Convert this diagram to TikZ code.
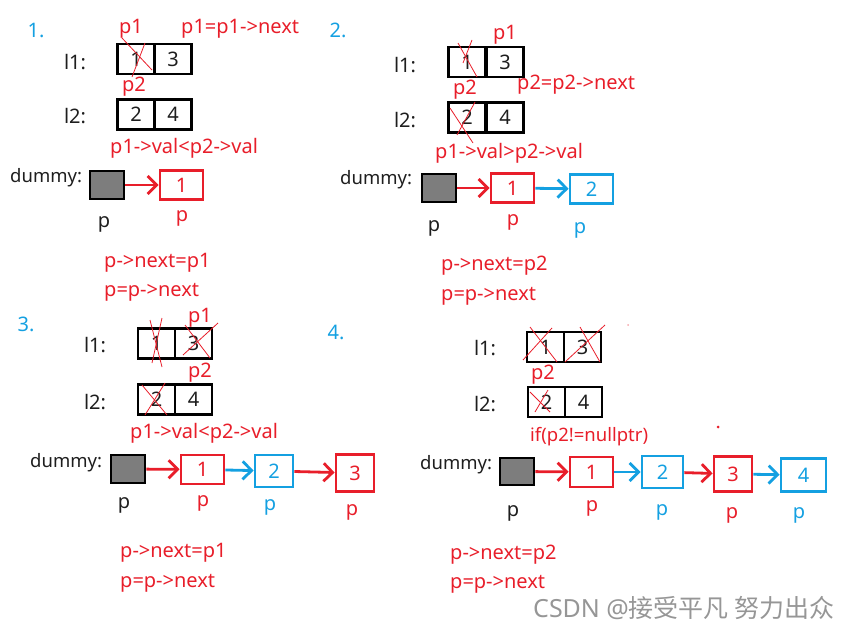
\documentclass[tikz,border=0pt]{standalone}
\usepackage{fontspec}
\setmainfont{Noto Sans}
\newfontfamily\cjkfont{Noto Sans CJK SC}
\usetikzlibrary{arrows.meta}
\definecolor{myred}{RGB}{232,30,42}
\definecolor{myblue}{RGB}{20,160,225}
\definecolor{mygray}{RGB}{125,125,125}
\definecolor{mytext}{RGB}{30,30,30}
\definecolor{wmgray}{RGB}{150,150,150}
\tikzset{
  txt/.style={font=\fontsize{20}{22}\selectfont, text=mytext, inner sep=0pt},
  dtxt/.style={txt, font=\fontsize{18.5}{20}\selectfont, anchor=west},
  rtxt/.style={txt, text=myred},
  btxt/.style={txt, text=myblue},
  cell/.style={draw=black, line width=2.4pt, minimum width=37pt, minimum height=30pt, inner sep=0pt, font=\fontsize{20}{22}\selectfont, text=mytext},
  dbox/.style={draw=black, fill=mygray, line width=2.6pt, minimum width=34pt, minimum height=28pt, inner sep=0pt},
  rbox/.style={draw=myred, line width=2.8pt, minimum width=43pt, minimum height=29pt, inner sep=0pt, font=\fontsize{20}{22}\selectfont, text=myred},
  bbox/.style={rbox, draw=myblue, text=myblue},
  rarr/.style={draw=myred, line width=2.8pt, -{Straight Barb[length=9pt,width=18pt]}},
  barr/.style={rarr, draw=myblue},
  crossln/.style={draw=myred, line width=0.8pt},
}
\begin{document}
\begin{tikzpicture}[x=1pt,y=-1pt]
\useasboundingbox (0,0) rectangle (867,632);
% ---------------- Panel 1 ----------------
\node[btxt] (n1) at (36,30) {1.};
\node[rtxt] (a1p1) at (131,29) {p1};
\node[rtxt, anchor=west] (a1nx) at (181,29) {p1=p1->next};
\node[txt] (a1l1) at (75,62) {l1:};
\node[cell] (a1c1) at (136,59) {1};
\node[cell] (a1c3) at (173,59) {3};
\node[rtxt] (a1p2) at (134,87) {p2};
\node[txt] (a1l2) at (75,116) {l2:};
\node[cell] (a1c2) at (136,114.5) {2};
\node[cell] (a1c4) at (173,114.5) {4};
\node[rtxt, anchor=west] (a1cmp) at (110,148) {p1->val<p2->val};
\node[dtxt] (a1dm) at (10,178) {dummy:};
\node[dbox] (a1d) at (107,185) {};
\node[rbox] (a1r1) at (181.5,185) {1};
\draw[rarr] (a1d) -- (a1r1);
\node[txt] (a1pa) at (104,224) {p};
\node[rtxt] (a1pb) at (182,218) {p};
\node[rtxt, anchor=west] (a1s1) at (104,263) {p->next=p1};
\node[rtxt, anchor=west] (a1s2) at (104,292) {p=p->next};
\draw[crossln] (122,38) -- (152,70);
\draw[crossln] (145,43) -- (132,77);
% ---------------- Panel 2 ----------------
\node[btxt] (n2) at (338,30) {2.};
\node[rtxt] (b2p1) at (505,35) {p1};
\node[txt] (b2l1) at (405,65) {l1:};
\node[cell] (b2c1) at (467,62) {1};
\node[cell] (b2c3) at (505,62) {3};
\node[rtxt, anchor=west] (b2nx) at (517,85) {p2=p2->next};
\node[rtxt] (b2p2) at (465,90) {p2};
\node[txt] (b2l2) at (405,120) {l2:};
\node[cell] (b2c2) at (467,117.5) {2};
\node[cell] (b2c4) at (505,117.5) {4};
\node[rtxt, anchor=west] (b2cmp) at (435,153) {p1->val>p2->val};
\node[dtxt] (b2dm) at (340,180) {dummy:};
\node[dbox] (b2d) at (439,188) {};
\node[rbox] (b2r1) at (512.5,188) {1};
\node[bbox] (b2b2) at (591.5,189) {2};
\draw[rarr] (b2d) -- (b2r1);
\draw[barr] (b2r1) -- (b2b2);
\node[txt] (b2pa) at (434,228) {p};
\node[rtxt] (b2pb) at (513,222) {p};
\node[btxt] (b2pc) at (580,230) {p};
\node[rtxt, anchor=west] (b2s1) at (441,266) {p->next=p2};
\node[rtxt, anchor=west] (b2s2) at (441,296) {p=p->next};
\draw[crossln] (458,43) -- (477,77);
\draw[crossln] (472,40) -- (463,63);
\draw[crossln] (450,108) -- (473,143);
\draw[crossln] (475,102) -- (457,135);
% ---------------- Panel 3 ----------------
\node[btxt] (n3) at (26,324) {3.};
\node[rtxt] (c3p1) at (200,318) {p1};
\node[txt] (c3l1) at (95,345) {l1:};
\node[cell] (c3c1) at (156.5,343.5) {1};
\node[cell] (c3c3) at (193.5,343.5) {3};
\node[rtxt] (c3p2) at (200,373) {p2};
\node[txt] (c3l2) at (95,402) {l2:};
\node[cell] (c3c2) at (156.5,399.5) {2};
\node[cell] (c3c4) at (193.5,399.5) {4};
\node[rtxt, anchor=west] (c3cmp) at (130,433) {p1->val<p2->val};
\node[dtxt] (c3dm) at (30,463) {dummy:};
\node[dbox] (c3d) at (128,469) {};
\node[rbox] (c3r1) at (202.5,469.5) {1};
\node[bbox, minimum width=38pt, minimum height=32pt] (c3b2) at (274,471) {2};
\node[rbox, minimum width=38pt, minimum height=37pt] (c3r3) at (355,473) {3};
\draw[rarr] (c3d) -- (c3r1);
\draw[barr] (c3r1) -- (c3b2);
\draw[rarr] (c3b2) -- (c3r3);
\node[txt] (c3pa) at (124,505) {p};
\node[rtxt] (c3pb) at (203,503) {p};
\node[btxt] (c3pc) at (270,507) {p};
\node[rtxt] (c3pd) at (352,512) {p};
\node[rtxt, anchor=west] (c3s1) at (120,553) {p->next=p1};
\node[rtxt, anchor=west] (c3s2) at (120,583) {p=p->next};
\draw[crossln] (150,320) -- (162,367);
\draw[crossln] (162,318) -- (152,363);
\draw[crossln] (185,325) -- (210,358);
\draw[crossln] (218,323) -- (183,355);
\draw[crossln] (142,385) -- (167,415);
\draw[crossln] (165,383) -- (145,415);
% ---------------- Panel 4 ----------------
\node[btxt] (n4) at (336,332) {4.};
\node[txt] (d4l1) at (485,348) {l1:};
\node[cell] (d4c1) at (545.5,347) {1};
\node[cell] (d4c3) at (582.5,347) {3};
\node[rtxt] (d4p2) at (543,375) {p2};
\node[txt] (d4l2) at (485,404) {l2:};
\node[cell] (d4c2) at (546.5,402) {2};
\node[cell] (d4c4) at (583.5,402) {4};
\node[rtxt, anchor=west, font=\fontsize{18.5}{20}\selectfont] (d4if) at (530,437) {if(p2!=nullptr)};
\fill[myred] (718,427) circle (1.5pt);
\fill[myred!40] (628,325) circle (1pt);
\node[dtxt] (d4dm) at (420,465) {dummy:};
\node[dbox, minimum height=27pt] (d4d) at (517,471.5) {};
\node[rbox, minimum height=30pt] (d4r1) at (591.5,472) {1};
\node[bbox, minimum width=41pt, minimum height=32pt] (d4b2) at (662.5,472) {2};
\node[rbox, minimum width=38pt, minimum height=35pt] (d4r3) at (733,474) {3};
\node[bbox, minimum width=45pt, minimum height=33pt] (d4b4) at (803.5,475) {4};
\draw[rarr] (d4d) -- (d4r1);
\draw[barr] (d4r1) -- (d4b2);
\draw[rarr] (d4b2) -- (d4r3);
\draw[barr] (d4r3) -- (d4b4);
\node[txt] (d4pa) at (513,513) {p};
\node[rtxt] (d4pb) at (592,508) {p};
\node[btxt] (d4pc) at (662,512) {p};
\node[rtxt] (d4pd) at (732,515) {p};
\node[btxt] (d4pe) at (799,515) {p};
\node[rtxt, anchor=west] (d4s1) at (450,555) {p->next=p2};
\node[rtxt, anchor=west] (d4s2) at (450,584) {p=p->next};
\draw[crossln] (530,327) -- (557,362);
\draw[crossln] (552,328) -- (523,360);
\draw[crossln] (580,327) -- (600,362);
\draw[crossln] (605,325) -- (565,362);
\draw[crossln] (530,392) -- (550,412);
\draw[crossln] (548,390) -- (535,412);
% watermark
\node[anchor=west, inner sep=0pt, text=wmgray, font=\fontsize{25}{28}\selectfont] (wm) at (533,608) {CSDN @{\cjkfont 接受平凡 努力出众}};
\end{tikzpicture}
\end{document}
